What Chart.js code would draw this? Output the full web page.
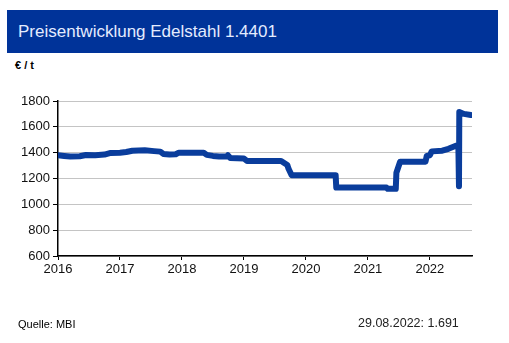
<!DOCTYPE html>
<html>
<head>
<meta charset="utf-8">
<script src="https://cdn.jsdelivr.net/npm/chart.js@4"></script>
<style>
  body { margin: 0; background: #fff; font-family: "Liberation Sans", Arial, sans-serif; }
  #wrap { position: relative; width: 509px; height: 343px; overflow: hidden; }
  #titlebar { position: absolute; left: 7px; top: 10px; width: 491px; height: 43px; background: #003399; }
  #titlebar span { position: absolute; left: 11px; top: 12px; font-size: 17px; color: #e4ecff; }
  #unit { position: absolute; left: 15px; top: 59px; font-size: 11px; font-weight: bold; color: #000; }
  #source { position: absolute; left: 18px; top: 318px; font-size: 11px; color: #000; }
  #latest { position: absolute; left: 358px; top: 316px; font-size: 12.5px; color: #222; }
  #chart { position: absolute; left: 0; top: 0; }
</style>
</head>
<body>
<div id="wrap">
  <div id="titlebar"><span>Preisentwicklung Edelstahl 1.4401</span></div>
  <div id="unit">€ / t</div>
  <canvas id="chart" width="509" height="343"></canvas>
  <div id="source">Quelle: MBI</div>
  <div id="latest">29.08.2022: 1.691</div>
</div>
<script>
// price series, dates as decimal years
var priceDate = [
  2016.00, 2016.10, 2016.20, 2016.35, 2016.45, 2016.60, 2016.75, 2016.85,
  2017.00, 2017.10, 2017.20, 2017.40, 2017.55, 2017.65, 2017.70, 2017.80,
  2017.90, 2017.95, 2018.35, 2018.40, 2018.50, 2018.60, 2018.72, 2018.74,
  2018.78, 2019.00, 2019.05, 2019.60, 2019.65, 2019.70, 2019.72, 2019.77,
  2020.48, 2020.49, 2021.30, 2021.32, 2021.45, 2021.46, 2021.52, 2021.93,
  2021.95, 2022.00, 2022.03, 2022.20, 2022.30, 2022.43, 2022.46, 2022.47,
  2022.475, 2022.55, 2022.66
];
var priceValue = [
  1380, 1375, 1370, 1372, 1382, 1380, 1385, 1398,
  1400, 1405, 1415, 1418, 1412, 1408, 1390, 1385,
  1388, 1400, 1400, 1383, 1375, 1370, 1370, 1380,
  1358, 1355, 1335, 1335, 1320, 1305, 1275, 1225,
  1225, 1130, 1130, 1120, 1120, 1245, 1330, 1330,
  1375, 1380, 1410, 1415, 1430, 1455, 1450, 1140,
  1715, 1700, 1691
];
var yearTicks = [2016, 2017, 2018, 2019, 2020, 2021, 2022];
var yMin = 600;
var yMax = 1800;

var points = [];
for (var i = 0; i < priceDate.length; i++) {
  points.push({ x: priceDate[i], y: priceValue[i] });
}

var ctx = document.getElementById("chart").getContext("2d");
var myChart = new Chart(ctx, {
  type: "line",
  data: {
    datasets: [
      {
        label: "Edelstahl 1.4401",
        data: points,
        borderColor: "#0a3d9c",
        borderWidth: 6,
        pointRadius: 0,
        fill: false,
        tension: 0,
        borderJoinStyle: "round",
        borderCapStyle: "round",
      },
    ],
  },
  options: {
    responsive: false,
    animation: false,
    layout: { padding: { top: 101, right: 37, bottom: 63, left: 0 } },
    plugins: { legend: { display: false }, tooltip: { enabled: false } },
    scales: {
      x: {
        type: "linear",
        min: 2016,
        max: 2022.68,
        afterBuildTicks: function (scale) {
          scale.ticks = yearTicks.map(function (v) { return { value: v }; });
        },
        afterFit: function (scale) { scale.height = 24; },
        grid: { drawOnChartArea: false, tickLength: 4, tickColor: "#000" },
        border: { color: "#000", width: 1.5 },
        ticks: {
          color: "#111",
          font: { family: "Liberation Sans", size: 13 },
          padding: 2,
          maxRotation: 0,
          callback: function (v) { return String(v); },
        },
      },
      y: {
        min: yMin,
        max: yMax,
        afterFit: function (scale) { scale.width = 58; },
        grid: { color: "#c4c4c4", tickLength: 5, tickColor: "#000" },
        border: { color: "#000", width: 1.5 },
        ticks: {
          stepSize: 200,
          color: "#111",
          font: { family: "Liberation Sans", size: 13 },
          padding: 3,
          callback: function (v) { return String(v); },
        },
      },
    },
  },
});
</script>
</body>
</html>
